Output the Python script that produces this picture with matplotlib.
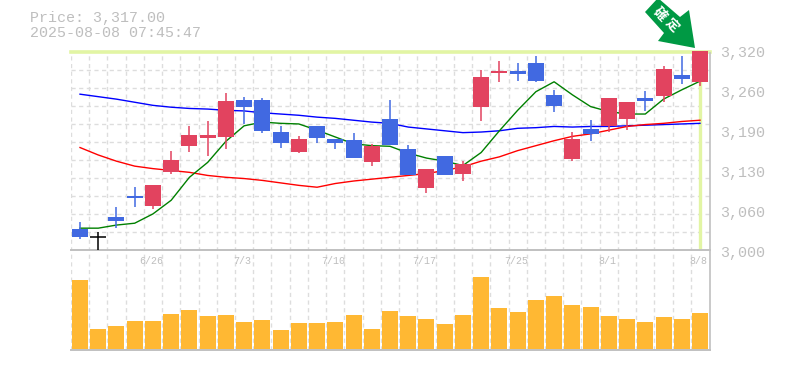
import matplotlib
matplotlib.use('Agg')
import matplotlib.pyplot as plt
from matplotlib.patches import Polygon, Rectangle
import numpy as np

W, H = 785, 370

price_text = 'Price: 3,317.00'
time_text = '2025-08-08 07:45:47'

colors = ['b', 'k', 'b', 'b', 'r', 'r', 'r', 'r', 'r', 'b', 'b', 'b', 'r', 'b', 'b', 'b', 'r', 'b',
          'b', 'r', 'b', 'r', 'r', 'r', 'b', 'b', 'b', 'r', 'b', 'r', 'r', 'b', 'r', 'b', 'r']
highs = [3046, 3030, 3070, 3103, 3106, 3160, 3200, 3208, 3254, 3248, 3246, 3200, 3185, 3200, 3180, 3190,
         3172, 3242, 3170, 3132, 3152, 3144, 3291, 3305, 3302, 3313, 3259, 3191, 3210, 3246, 3240, 3257, 3297, 3313, 3321]
opens = [3022, 3022, 3054, 3088, 3072, 3127, 3169, 3181, 3183, 3232, 3192, 3173, 3159, 3181, 3173, 3178,
         3143, 3170, 3121, 3101, 3153, 3124, 3231, 3286, 3290, 3303, 3233, 3148, 3188, 3201, 3212, 3246, 3249, 3283, 3271]
closes = [3035, 3022, 3048, 3084, 3106, 3146, 3187, 3187, 3241, 3242, 3242, 3191, 3180, 3200, 3179, 3149,
          3169, 3212, 3163, 3132, 3122, 3139, 3280, 3290, 3284, 3274, 3250, 3180, 3196, 3246, 3240, 3241, 3292, 3276, 3321]
lows = [3019, 3000, 3037, 3070, 3067, 3124, 3159, 3153, 3164, 3204, 3189, 3166, 3157, 3173, 3164, 3149,
        3136, 3170, 3121, 3093, 3122, 3112, 3209, 3271, 3273, 3271, 3223, 3145, 3177, 3191, 3194, 3225, 3239, 3269, 3265]
ma_blue = [3252, 3248, 3244, 3239, 3234, 3231, 3229, 3228, 3226, 3225, 3222, 3220, 3218, 3215, 3213, 3210,
           3207, 3205, 3199, 3196, 3193, 3190, 3191, 3193, 3197, 3198, 3200, 3199, 3200, 3200, 3201, 3202, 3203, 3204, 3205]
ma_red = [3166, 3154, 3144, 3136, 3132, 3129, 3126, 3121, 3118, 3116, 3113, 3109, 3105, 3102, 3108, 3112,
          3115, 3118, 3121, 3124, 3129, 3135, 3144, 3151, 3161, 3169, 3177, 3184, 3188, 3194, 3200, 3203, 3205, 3208, 3210]
ma_green = [3036, 3036, 3041, 3044, 3059, 3081, 3118, 3142, 3176, 3201, 3207, 3205, 3204, 3194, 3183, 3172,
            3169, 3168, 3157, 3149, 3144, 3137, 3158, 3193, 3226, 3256, 3272, 3251, 3232, 3224, 3220, 3220, 3244, 3259, 3273]
volumes = [68.3, 19.3, 22.3, 27.3, 27.3, 34.3, 38.3, 32.3, 33.3, 26.3, 28.3, 18.3, 25.3, 25.3, 26.3, 33.3, 19.3, 37.3,
           32.3, 29.3, 24.3, 33.3, 71.3, 40.3, 36.3, 48.3, 52.3, 43.3, 41.3, 32.3, 29.3, 26.3, 31.3, 29.3, 35.3]
date_idx = [4, 9, 14, 19, 24, 29, 34]
date_labels = ['6/26', '7/3', '7/10', '7/17', '7/25', '8/1', '8/8']
price_ticks = [3000, 3064, 3128, 3192, 3256, 3320]
price_labels = ['3,000', '3,060', '3,130', '3,190', '3,260', '3,320']

C = {'b': '#4169e1', 'r': '#e2435f', 'k': '#000000'}
GRID = '#dddddd'
FRAME = '#c0c0c0'
TXT = '#bebebe'
LIME = '#e2f5a4'
MONO = 'Liberation Mono'


def box(l, t, r, b):
    # pixel box (from top left) to figure fractions
    return [l / W, 1 - b / H, (r - l) / W, (b - t) / H]


fig = plt.figure(figsize=(W / 100, H / 100), dpi=100)
ax = fig.add_axes(box(70.7, 52, 710, 250.5))
vax = fig.add_axes(box(70.7, 250.5, 710, 349.5))

x = np.arange(len(closes))
xlim = (-(80 - 70.7) / 18.24, 34 + (710 - 700) / 18.24)

for a in (ax, vax):
    a.set_xticks(x - 0.5)
    a.set_xlim(xlim)
    a.patch.set_alpha(0)
    for s in a.spines.values():
        s.set_visible(False)
    a.tick_params(length=0, labelleft=False, labelbottom=False)
    a.xaxis.grid(True, color=GRID, lw=1, ls=(0, (3, 2.5)), zorder=0)
    a.set_axisbelow(True)

ax.set_yticks(3000 + np.arange(1, 11) * 320 / 11)
ax.set_ylim(3000, 3320)
ax.yaxis.grid(True, color=GRID, lw=1, ls=(0, (3, 2.5)), zorder=0)

vax.set_yticks([])
vax.set_ylim(0, 99)
vax.bar(x, volumes, width=16 / 18.24, bottom=1, color='#ffb833', zorder=2)

# frame and highlight
ax.axvline(34, ymin=0, ymax=1, color=LIME, lw=2.4, zorder=1)
ax.axhline(3320, color=LIME, lw=2.6, zorder=1, clip_on=False)
ax.axhline(3000, color=FRAME, lw=1.4, zorder=3, clip_on=False)
vax.axhline(0, color=FRAME, lw=1.4, zorder=3, clip_on=False)
fig.add_artist(plt.Line2D([710 / W, 710 / W], [1 - 53 / H, 1 - 350 / H], color=FRAME, lw=1.2))

# moving averages
ax.plot(x, ma_blue, color='#0000ff', lw=1.0, zorder=3)
ax.plot(x, ma_red, color='#ff0000', lw=1.0, zorder=3)
ax.plot(x, ma_green, color='#008000', lw=1.0, zorder=3)

# candles
for i in x:
    c = C[colors[i]]
    ax.vlines(i, lows[i], highs[i], color=c, lw=1.1, zorder=4, clip_on=False)
    lo, hi = min(opens[i], closes[i]), max(opens[i], closes[i])
    if hi == lo:
        ax.hlines(lo, i - 0.44, i + 0.44, color=c, lw=1.1, zorder=4)
    else:
        ax.add_patch(Rectangle((i - 8 / 18.24, lo), 16 / 18.24, hi - lo, color=c, lw=0, zorder=4,
                               clip_on=False, antialiased=False))

# tick labels
for i, s in zip(date_idx, date_labels):
    vax.text(i - 0.1, 89, s, ha='center', va='center', family=MONO, fontsize=7.2, color=TXT)
for p, s in zip(price_ticks, price_labels):
    fig.text(720 / W, 1 - (53 + (3320 - p) * 200 / 320) / H, s, ha='left', va='center',
             family=MONO, fontsize=10.8, color=TXT)

fig.text(29.5 / W, 1 - 18 / H, price_text, ha='left', va='center', family=MONO, fontsize=10.8, color=TXT)
fig.text(29.5 / W, 1 - 33 / H, time_text, ha='left', va='center', family=MONO, fontsize=10.8, color=TXT)

# green arrow sign
arrow_px = [(695, 48), (658, 41), (664, 33), (645, 12), (658, -2), (680, 17), (689, 10)]
arrow = Polygon([(px / W, 1 - py / H) for px, py in arrow_px], closed=True, color='#009944', lw=0,
                transform=fig.transFigure)
fig.add_artist(arrow)
for ch, (px, py) in zip('確定', [(660, 14), (672, 25)]):
    fig.text(px / W, 1 - py / H, ch, rotation=-45, rotation_mode='anchor', ha='center', va='center',
             family=['Noto Sans CJK JP', 'DejaVu Sans'], fontsize=9.5, fontweight='bold', color='white')

fig.savefig('out.png', dpi=100)
